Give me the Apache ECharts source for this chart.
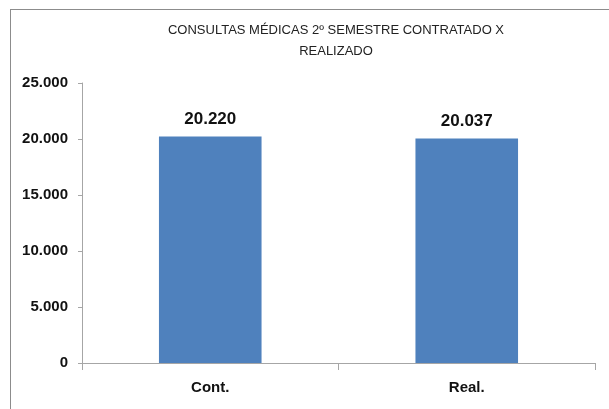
<!DOCTYPE html>
<html>
<head>
<meta charset="utf-8">
<script src="https://cdn.jsdelivr.net/npm/echarts@6/dist/echarts.min.js"></script>
<style>
    html, body { margin: 0; padding: 0; background: #fff; }
    #frame {
        position: absolute; left: 10px; top: 9px; width: 620px; height: 420px;
        border-left: 1px solid #8c8c8c; border-top: 1px solid #8c8c8c;
    }
    #chart { position: absolute; left: 0; top: 0; width: 609px; height: 409px; }
</style>
</head>
<body>
<div id="frame"></div>
<div id="chart"></div>
<script>
    const titleText = 'CONSULTAS MÉDICAS 2º SEMESTRE CONTRATADO X\nREALIZADO'
    const categories = ['Cont.', 'Real.']
    const values = [20220, 20037]
    const yMax = 25000
    const yStep = 5000

    const fontFamily = '"Liberation Sans", Arial, sans-serif'

    // 20220 -> 20.220
    function fmt(v) {
        return String(v).replace(/\B(?=(\d{3})+(?!\d))/g, '.')
    }

    const chart = echarts.init(document.getElementById('chart'))

    chart.setOption({
        animation: false,
        title: {
            text: titleText,
            left: 331,
            top: 15,
            textAlign: 'center',
            textStyle: {
                fontFamily,
                fontSize: 13,
                fontWeight: 'normal',
                color: '#222',
                lineHeight: 21
            }
        },
        grid: {
            left: 82,
            right: 14,
            top: 83,
            bottom: 46
        },
        xAxis: {
            type: 'category',
            data: categories,
            axisLine: { lineStyle: { color: '#a6a6a6' } },
            axisTick: { show: true, length: 7, lineStyle: { color: '#a6a6a6' } },
            axisLabel: {
                margin: 17,
                fontFamily,
                fontSize: 15,
                fontWeight: 'bold',
                color: '#111'
            }
        },
        yAxis: {
            type: 'value',
            min: 0,
            max: yMax,
            interval: yStep,
            splitLine: { show: false },
            axisLine: { show: true, lineStyle: { color: '#a6a6a6' } },
            axisTick: { show: true, length: 4, lineStyle: { color: '#a6a6a6' } },
            axisLabel: {
                margin: 14,
                fontFamily,
                fontSize: 15,
                fontWeight: 'bold',
                color: '#111',
                formatter: fmt
            }
        },
        series: [{
            type: 'bar',
            data: values,
            barWidth: '40%',
            itemStyle: { color: '#4f81bd' },
            label: {
                show: true,
                position: 'top',
                distance: 9,
                fontFamily,
                fontSize: 17,
                fontWeight: 'bold',
                color: '#111',
                formatter: p => fmt(p.value)
            }
        }]
    })
</script>
</body>
</html>
